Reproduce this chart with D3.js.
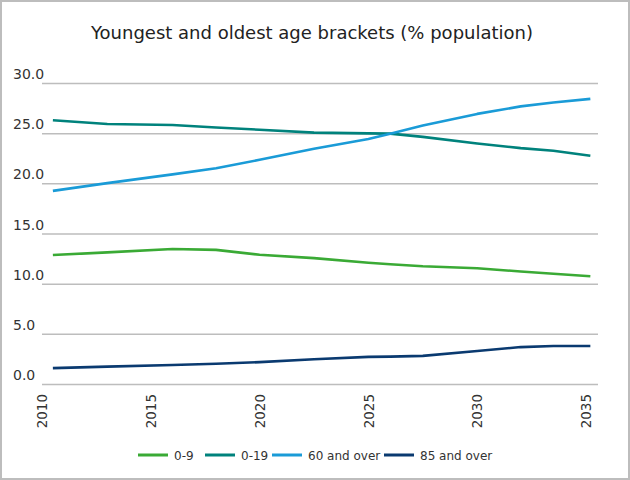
<!DOCTYPE html>
<html>
<head>
<meta charset="utf-8">
<script src="https://cdn.jsdelivr.net/npm/d3@7"></script>
<style>
  html, body { margin: 0; padding: 0; background: #fff; }
  svg { display: block; }
  text { font-family: "DejaVu Sans", Verdana, sans-serif; fill: #333; }
</style>
</head>
<body>
<svg id="chart" width="630" height="480"></svg>
<script>
const title = "Youngest and oldest age brackets (% population)";
const years = [2010.5, 2013, 2016, 2018, 2020, 2022.5, 2025, 2026, 2027.5, 2030, 2032, 2033.5, 2035.2];
const seriesNames = ["0-9", "0-19", "60 and over", "85 and over"];
const age0to9   = [12.9, 13.17, 13.5, 13.42, 12.93, 12.6, 12.14, 11.99, 11.78, 11.59, 11.26, 11.04, 10.79];
const age0to19  = [26.33, 25.97, 25.86, 25.62, 25.39, 25.1, 25.03, 25.0, 24.68, 24.02, 23.56, 23.3, 22.8];
const age60plus = [19.3, 20.07, 20.94, 21.55, 22.4, 23.49, 24.47, 25.0, 25.82, 26.97, 27.72, 28.1, 28.47];
const age85plus = [1.63, 1.78, 1.95, 2.07, 2.23, 2.51, 2.75, 2.78, 2.85, 3.34, 3.73, 3.83, 3.83];
const xTicks = [2010, 2015, 2020, 2025, 2030, 2035];
const yTicks = [0, 5, 10, 15, 20, 25, 30];
const colors = ["#3aaa35", "#00827c", "#1a9bd7", "#0a3a70"];

const allSeries = [age0to9, age0to19, age60plus, age85plus];

const svg = d3.select("#chart");
const W = 630, H = 480;

svg.append("rect").attr("x", 1).attr("y", 1).attr("width", W - 2).attr("height", H - 2)
  .attr("fill", "#fff").attr("stroke", "#bdbdbd").attr("stroke-width", 2);

svg.append("text").attr("x", 312).attr("y", 39).attr("text-anchor", "middle")
  .style("font-size", "18px").style("fill", "#222").text(title);

const x = d3.scaleLinear().domain([2010, 2035]).range([42, 586]);
const y = d3.scaleLinear().domain([0, 30]).range([384.5, 83.5]);

// gridlines and y labels
const gy = svg.append("g");
gy.selectAll("line.grid").data(yTicks).join("line").attr("class", "grid")
  .attr("x1", 42).attr("x2", 598).attr("y1", d => y(d)).attr("y2", d => y(d))
  .attr("stroke", "#bdbdbd").attr("stroke-width", 1.5);
gy.selectAll("text.ylab").data(yTicks).join("text").attr("class", "ylab")
  .attr("x", 13).attr("y", d => y(d) - 4.5)
  .style("font-size", "14px").text(d => d3.format(".1f")(d));

// x axis labels
const gx = svg.append("g").attr("transform", "translate(0,394)");
const xAxis = d3.axisBottom(x).tickValues(xTicks).tickSize(0).tickFormat(d3.format("d"));
gx.call(xAxis);
gx.select(".domain").remove();
gx.selectAll("text")
  .attr("transform", "rotate(-90)")
  .attr("text-anchor", "end")
  .attr("x", 0).attr("y", 0).attr("dy", "0.35em")
  .style("font-size", "13.5px").style("font-family", "'DejaVu Sans', Verdana, sans-serif").style("fill", "#333");

// lines
const line = d3.line().x((d, i) => x(years[i])).y(d => y(d));
allSeries.forEach((vals, k) => {
  svg.append("path").datum(vals).attr("d", line)
    .attr("fill", "none").attr("stroke", colors[k]).attr("stroke-width", 2.6)
    .attr("stroke-linejoin", "round");
});

// legend
const legendX = [138, 205, 272, 384];
const lg = svg.append("g").attr("transform", "translate(0,455)");
seriesNames.forEach((name, k) => {
  lg.append("line").attr("x1", legendX[k]).attr("x2", legendX[k] + 30)
    .attr("y1", 0).attr("y2", 0).attr("stroke", colors[k]).attr("stroke-width", 3);
  lg.append("text").attr("x", legendX[k] + 36).attr("y", 5)
    .style("font-size", "12px").text(name);
});
</script>
</body>
</html>
